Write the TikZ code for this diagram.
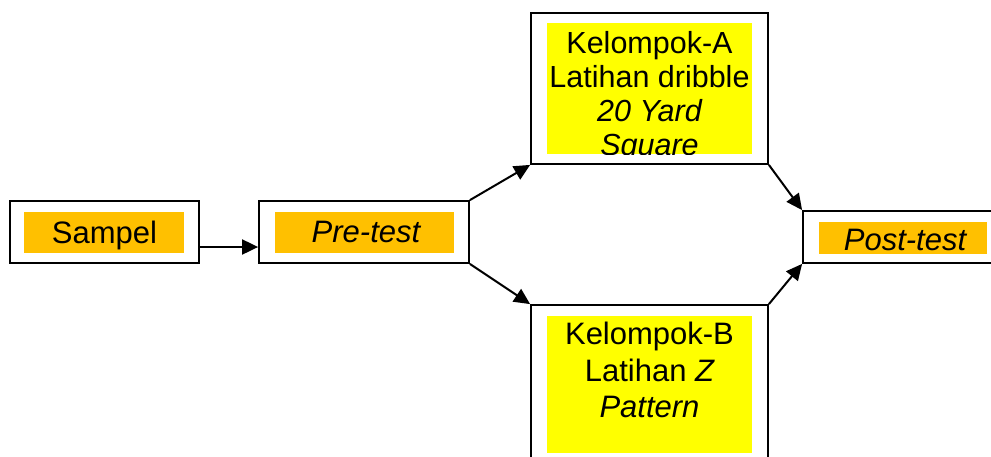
\documentclass[tikz,border=0pt]{standalone}
\usepackage{fontspec}
\setmainfont{Liberation Sans}
\usetikzlibrary{arrows.meta}
\definecolor{gold}{HTML}{FFC000}
\definecolor{yel}{HTML}{FFFF00}
\tikzset{
  outerbox/.style={draw=black, line width=1.8pt, fill=white, inner sep=0pt},
  fillbox/.style={draw=none, inner sep=0pt},
  lbl/.style={inner sep=0pt, font=\fontsize{30.5}{34}\selectfont, align=center},
  conn/.style={line width=2pt, -{Triangle[length=16pt,width=15pt]}}
}
\begin{document}
\begin{tikzpicture}[x=1pt,y=-1pt]
\useasboundingbox (0,0) rectangle (991,456);
% outer boxes
\node[outerbox, minimum width=189pt, minimum height=62pt] (sampel) at (104.5,232) {};
\node[outerbox, minimum width=210pt, minimum height=62pt] (pre) at (364,232) {};
\node[outerbox, minimum width=237pt, minimum height=151pt] (ka) at (649.5,88.5) {};
\node[outerbox, minimum width=237pt, minimum height=170pt] (kb) at (649.5,390) {};
\node[outerbox, minimum width=200pt, minimum height=52pt] (post) at (903,237) {};
% inner fills
\node[fillbox, fill=gold, minimum width=160pt, minimum height=41pt] (sampelf) at (104,232.5) {};
\node[fillbox, fill=gold, minimum width=179pt, minimum height=41pt] (pref) at (364.5,232.5) {};
\node[fillbox, fill=gold, minimum width=168pt, minimum height=32pt] (postf) at (903,238) {};
\node[fillbox, fill=yel, minimum width=205pt, minimum height=131pt] (kaf) at (649.5,88.5) {};
\node[fillbox, fill=yel, minimum width=205pt, minimum height=137pt] (kbf) at (649.5,384.5) {};
% texts
\node[lbl, anchor=base, font=\fontsize{31}{34}\selectfont] (sampelt) at (104.5,243) {Sampel};
\node[lbl, anchor=base, font=\fontsize{31}{34}\selectfont] (pret) at (366,242) {\itshape Pre-test};
\node[lbl, anchor=base, font=\fontsize{31}{34}\selectfont] (postt) at (905,250) {\itshape Post-test};
\begin{scope}
  \clip (kaf.north west) rectangle (kaf.south east);
  \node[lbl, anchor=north] (kat) at (649.5,31) {Kelompok-A\\Latihan dribble\\\itshape 20 Yard\\\itshape Square};
\end{scope}
\node[lbl, anchor=north, font=\fontsize{31}{36.5}\selectfont] (kbt) at (649.5,322) {Kelompok-B\\Latihan \itshape Z\\\itshape Pattern};
% connectors
\draw[conn] ([yshift=-15pt]sampel.east) -- ([yshift=-15pt]pre.west);
\draw[conn] (pre.north east) -- (ka.south west);
\draw[conn] (pre.south east) -- (kb.north west);
\draw[conn] (ka.south east) -- (post.north west);
\draw[conn] (kb.north east) -- (post.south west);
\end{tikzpicture}
\end{document}
